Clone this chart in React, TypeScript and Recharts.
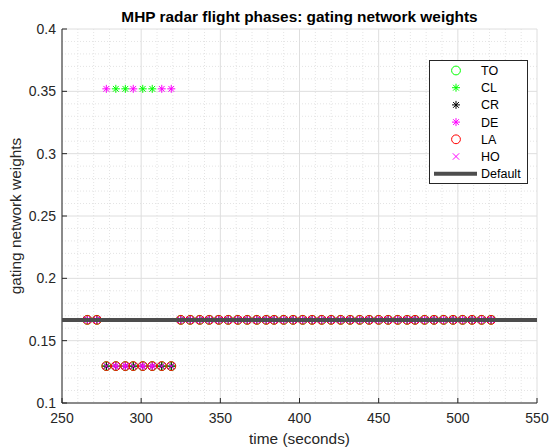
import React from 'react';
import { ComposedChart, Scatter, Line, XAxis, YAxis, CartesianGrid, Legend } from 'recharts';

// time stamps (seconds) of the gating samples
const times = [
  266, 272, 278, 284, 290, 295, 301, 307, 313, 319,
  325, 331, 337, 343, 349, 355, 361, 367, 373, 379,
  384, 390, 396, 402, 408, 414, 420, 426, 432, 438,
  444, 450, 456, 462, 468, 473, 479, 485, 491, 497,
  503, 509, 515, 521,
];

// E = equal share, L = low, H = winning phase
const E = 0.1667;
const L = 0.1296;
const H = 0.352;

const toWeights = [E, E, L, L, L, L, L, L, L, L, E, E, E, E, E, E, E, E, E, E, E, E, E, E, E, E, E, E, E, E, E, E, E, E, E, E, E, E, E, E, E, E, E, E];
const clWeights = [E, E, L, H, H, L, H, H, L, L, E, E, E, E, E, E, E, E, E, E, E, E, E, E, E, E, E, E, E, E, E, E, E, E, E, E, E, E, E, E, E, E, E, E];
const crWeights = [E, E, L, L, L, L, L, L, L, L, E, E, E, E, E, E, E, E, E, E, E, E, E, E, E, E, E, E, E, E, E, E, E, E, E, E, E, E, E, E, E, E, E, E];
const deWeights = [E, E, H, L, L, H, L, L, H, H, E, E, E, E, E, E, E, E, E, E, E, E, E, E, E, E, E, E, E, E, E, E, E, E, E, E, E, E, E, E, E, E, E, E];
const laWeights = [E, E, L, L, L, L, L, L, L, L, E, E, E, E, E, E, E, E, E, E, E, E, E, E, E, E, E, E, E, E, E, E, E, E, E, E, E, E, E, E, E, E, E, E];
const hoWeights = [E, E, L, L, L, L, L, L, L, L, E, E, E, E, E, E, E, E, E, E, E, E, E, E, E, E, E, E, E, E, E, E, E, E, E, E, E, E, E, E, E, E, E, E];

const defaultTimes = [250, 550];
const defaultWeights = [1 / 6, 1 / 6];

const xTicks = [250, 300, 350, 400, 450, 500, 550];
const yTicks = [0.1, 0.15, 0.2, 0.25, 0.3, 0.35, 0.4];
const xMinor = [260, 270, 280, 290, 310, 320, 330, 340, 360, 370, 380, 390, 410, 420, 430, 440, 460, 470, 480, 490, 510, 520, 530, 540];
const yMinor = [0.11, 0.12, 0.13, 0.14, 0.16, 0.17, 0.18, 0.19, 0.21, 0.22, 0.23, 0.24, 0.26, 0.27, 0.28, 0.29, 0.31, 0.32, 0.33, 0.34, 0.36, 0.37, 0.38, 0.39];

const toRows = (ws: number[]) => times.map((t, i) => ({ t, w: ws[i] }));
const defaultRows = defaultTimes.map((t, i) => ({ t, w: defaultWeights[i] }));

const FONT = '"Liberation Sans", Arial, Helvetica, sans-serif';
const AX = '#262626';
const GREEN = '#00ff00';
const MAGENTA = '#ff00ff';
const RED = '#ff0000';

type Kind = 'circle' | 'star' | 'cross' | 'line';

const drawMarker = (kind: Kind, color: string, cx: number, cy: number) => {
  const r = 4;
  const d = 2.9;
  if (kind === 'circle') return <circle cx={cx} cy={cy} r={4.4} fill="none" stroke={color} strokeWidth={1} />;
  if (kind === 'cross')
    return (
      <g stroke={color} strokeWidth={1}>
        <line x1={cx - 3.2} y1={cy - 3.2} x2={cx + 3.2} y2={cy + 3.2} />
        <line x1={cx - 3.2} y1={cy + 3.2} x2={cx + 3.2} y2={cy - 3.2} />
      </g>
    );
  return (
    <g stroke={color} strokeWidth={1}>
      <line x1={cx - r} y1={cy} x2={cx + r} y2={cy} />
      <line x1={cx} y1={cy - r} x2={cx} y2={cy + r} />
      <line x1={cx - d} y1={cy - d} x2={cx + d} y2={cy + d} />
      <line x1={cx - d} y1={cy + d} x2={cx + d} y2={cy - d} />
    </g>
  );
};

const shape = (kind: Kind, color: string) => (p: any) => drawMarker(kind, color, p.cx, p.cy);

const phases: { name: string; data: number[]; kind: Kind; color: string }[] = [
  { name: 'TO', data: toWeights, kind: 'circle', color: GREEN },
  { name: 'CL', data: clWeights, kind: 'star', color: GREEN },
  { name: 'CR', data: crWeights, kind: 'star', color: '#000000' },
  { name: 'DE', data: deWeights, kind: 'star', color: MAGENTA },
  { name: 'LA', data: laWeights, kind: 'circle', color: RED },
  { name: 'HO', data: hoWeights, kind: 'cross', color: MAGENTA },
];

const legendRows: { name: string; kind: Kind; color: string }[] = [
  ...phases.map((p) => ({ name: p.name, kind: p.kind, color: p.color })),
  { name: 'Default', kind: 'line', color: '#4d4d4d' },
];

const renderLegend = () => (
  <svg width={99} height={124} style={{ display: 'block' }}>
    <rect x={0.5} y={0.5} width={98} height={123} fill="#fff" stroke={AX} strokeWidth={1} />
    {legendRows.map((row, i) => {
      const cy = 10.5 + i * 17.2;
      return (
        <g key={row.name}>
          {row.kind === 'line' ? (
            <line x1={5} y1={cy} x2={48} y2={cy} stroke={row.color} strokeWidth={4} />
          ) : (
            drawMarker(row.kind, row.color, 27, cy)
          )}
          <text x={52} y={cy} dy="0.36em" fontSize={12.5} fontFamily={FONT} fill="#000">
            {row.name}
          </text>
        </g>
      );
    })}
  </svg>
);

const LeftTick = ({ x, y, payload }: any) => (
  <g>
    <line x1={x} y1={y} x2={x + 5} y2={y} stroke={AX} />
    <text x={x - 6} y={y} dy="0.36em" textAnchor="end" fontSize={14} fontFamily={FONT} fill={AX}>
      {payload.value}
    </text>
  </g>
);

const BottomTick = ({ x, y, payload }: any) => (
  <g>
    <line x1={x} y1={y} x2={x} y2={y - 5} stroke={AX} />
    <text x={x} y={y + 15} dy="0.36em" textAnchor="middle" fontSize={14} fontFamily={FONT} fill={AX}>
      {payload.value}
    </text>
  </g>
);

const TopTick = ({ x, y }: any) => <line x1={x} y1={y} x2={x} y2={y + 5} stroke={AX} />;
const RightTick = ({ x, y }: any) => <line x1={x} y1={y} x2={x - 5} y2={y} stroke={AX} />;

export default function App() {
  return (
    <div style={{ position: 'absolute', left: 0, top: 0, width: 554, height: 448, background: '#fff', fontFamily: FONT }}>
      <div
        style={{
          position: 'absolute',
          left: 62,
          width: 475,
          top: 7,
          textAlign: 'center',
          fontSize: 15.4,
          fontWeight: 'bold',
          color: '#000',
          lineHeight: '20px',
        }}
      >
        MHP radar flight phases: gating network weights
      </div>
      <ComposedChart width={554} height={448} margin={{ top: 29, right: 17, bottom: 0, left: 0 }}>
        <CartesianGrid verticalValues={xMinor} horizontalValues={yMinor} stroke="#e4e4e4" strokeDasharray="1 2" />
        <CartesianGrid stroke="#dedede" />
        <XAxis
          dataKey="t"
          type="number"
          domain={[250, 550]}
          ticks={xTicks}
          allowDataOverflow
          height={45}
          tickSize={0}
          tickMargin={0}
          tickLine={false}
          axisLine={{ stroke: AX }}
          tick={<BottomTick />}
          interval={0}
          label={{ value: 'time (seconds)', position: 'insideBottom', offset: 4, style: { fontSize: 15.4, fontFamily: FONT, fill: AX } }}
        />
        <XAxis
          xAxisId="top"
          orientation="top"
          type="number"
          domain={[250, 550]}
          ticks={xTicks}
          allowDataOverflow
          height={0}
          tickSize={0}
          tickMargin={0}
          tickLine={false}
          axisLine={{ stroke: AX }}
          tick={<TopTick />}
          interval={0}
        />
        <YAxis
          dataKey="w"
          type="number"
          domain={[0.1, 0.4]}
          ticks={yTicks}
          allowDataOverflow
          width={62}
          tickSize={0}
          tickMargin={0}
          tickLine={false}
          axisLine={{ stroke: AX }}
          tick={<LeftTick />}
          interval={0}
          label={{ value: 'gating network weights', angle: -90, position: 'insideLeft', offset: 16, style: { textAnchor: 'middle', fontSize: 15.4, fontFamily: FONT, fill: AX } }}
        />
        <YAxis
          yAxisId="right"
          orientation="right"
          type="number"
          domain={[0.1, 0.4]}
          ticks={yTicks}
          allowDataOverflow
          width={0}
          tickSize={0}
          tickMargin={0}
          tickLine={false}
          axisLine={{ stroke: AX }}
          tick={<RightTick />}
          interval={0}
        />
        {phases.map((p) => (
          <Scatter
            key={p.name}
            name={p.name}
            data={toRows(p.data)}
            dataKey="w"
            shape={shape(p.kind, p.color)}
            isAnimationActive={false}
          />
        ))}
        <Line
          name="Default"
          data={defaultRows}
          dataKey="w"
          stroke="#4d4d4d"
          strokeWidth={4}
          dot={false}
          activeDot={false}
          isAnimationActive={false}
          zIndex={700}
        />
        <Legend
          layout="horizontal"
          verticalAlign="middle"
          align="center"
          wrapperStyle={{ left: 429, top: 60, width: 99, height: 124 }}
          content={renderLegend}
        />
      </ComposedChart>
    </div>
  );
}
